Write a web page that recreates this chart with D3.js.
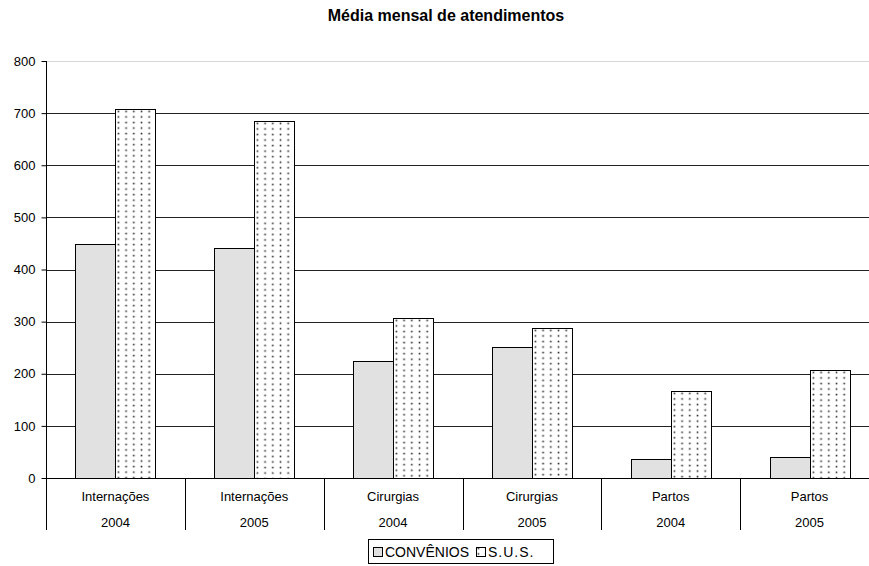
<!DOCTYPE html>
<html>
<head>
<meta charset="utf-8">
<script src="https://cdn.jsdelivr.net/npm/d3@7"></script>
<style>
  html, body { margin: 0; padding: 0; background: #fff; }
  svg { display: block; font-family: "Liberation Sans", Arial, sans-serif; }
</style>
</head>
<body>
<svg id="chart" width="869" height="566"></svg>
<script>
// Monthly average of hospital services, by category and year
const categories = ["Internações", "Internações", "Cirurgias", "Cirurgias", "Partos", "Partos"];
const years = ["2004", "2005", "2004", "2005", "2004", "2005"];
const seriesNames = ["CONVÊNIOS", "S.U.S."];
const convenios = [449, 441, 225, 252, 36, 41];
const sus = [707, 685, 307, 287, 166, 208];
const yTicks = [0, 100, 200, 300, 400, 500, 600, 700, 800];

const rows = categories.map((c, i) => ({
  key: i,
  category: c,
  year: years[i],
  values: [convenios[i], sus[i]]
}));

const svg = d3.select("#chart");
const plotLeft = 46, plotRight = 879, plotTop = 61, plotBottom = 478, axisFoot = 530;
const defs = svg.append("defs");

// Dotted fill, anchored to the left/top edge of the shape that uses it
let patternCount = 0;
function dotPattern(ox, oy) {
  const id = "dots" + (patternCount++);
  const w = 7.7, h = 5.55;
  const p = defs.append("pattern")
    .attr("id", id)
    .attr("patternUnits", "userSpaceOnUse")
    .attr("x", ox).attr("y", oy)
    .attr("width", w).attr("height", h);
  p.append("rect").attr("width", w).attr("height", h).attr("fill", "#fff");
  p.append("rect").attr("x", 2.6).attr("y", 1.6).attr("width", 1.6).attr("height", 1.6).attr("fill", "#2a2a2a");
  return `url(#${id})`;
}

const convFill = "#e1e1e1";

const y = d3.scaleLinear().domain([0, 800]).range([plotBottom, plotTop]);
const x = d3.scaleBand().domain(rows.map(d => d.key)).range([plotLeft, plotRight]).padding(0);
const groupWidth = 80;

// Title
svg.append("text")
  .attr("x", 446).attr("y", 21)
  .attr("text-anchor", "middle")
  .attr("font-weight", "bold")
  .attr("font-size", 16)
  .text("Média mensal de atendimentos");

// Horizontal gridlines
svg.append("g")
  .selectAll("line")
  .data(yTicks.filter(t => t > 0))
  .join("line")
  .attr("x1", plotLeft).attr("x2", plotRight)
  .attr("y1", d => Math.round(y(d)) + 0.5).attr("y2", d => Math.round(y(d)) + 0.5)
  .attr("stroke", d => d === 800 ? "#d8d8d8" : "#222")
  .attr("stroke-width", 1);

// Bars
const groups = svg.append("g")
  .selectAll("g")
  .data(rows)
  .join("g");

groups.each(function(d) {
  const cx = x(d.key) + x.bandwidth() / 2;
  const xs = d3.scaleBand().domain(seriesNames).range([cx - groupWidth / 2, cx + groupWidth / 2]).padding(0);
  d3.select(this).selectAll("rect")
    .data(d.values.map((v, i) => ({ name: seriesNames[i], value: v, i })))
    .join("rect")
    .attr("x", s => Math.round(xs(s.name)) + 0.5)
    .attr("y", s => Math.round(y(s.value)) + 0.5)
    .attr("width", xs.bandwidth())
    .attr("height", s => Math.round(y(0)) - Math.round(y(s.value)))
    .attr("fill", s => s.i === 0 ? convFill : dotPattern(Math.round(xs(s.name)), Math.round(y(s.value))))
    .attr("stroke", "#000")
    .attr("stroke-width", 1);
});

// Y axis
const yAxis = svg.append("g")
  .attr("transform", `translate(${plotLeft + 0.5},0)`)
  .call(d3.axisLeft(y).tickValues(yTicks).tickSize(5).tickSizeOuter(0).tickPadding(6));
yAxis.select(".domain").remove();
yAxis.selectAll("line").attr("stroke", "#000");
yAxis.selectAll("text").attr("font-size", 13).attr("font-family", "Liberation Sans, Arial, sans-serif").attr("fill", "#000");

svg.append("line")
  .attr("x1", plotLeft + 0.5).attr("x2", plotLeft + 0.5)
  .attr("y1", plotTop).attr("y2", axisFoot)
  .attr("stroke", "#000");

// X axis baseline and category separators
svg.append("line")
  .attr("x1", plotLeft).attr("x2", plotRight)
  .attr("y1", plotBottom + 0.5).attr("y2", plotBottom + 0.5)
  .attr("stroke", "#000");

svg.append("g")
  .selectAll("line")
  .data(rows.slice(1))
  .join("line")
  .attr("x1", d => Math.round(x(d.key)) + 0.5).attr("x2", d => Math.round(x(d.key)) + 0.5)
  .attr("y1", plotBottom).attr("y2", axisFoot)
  .attr("stroke", "#000");

// Two-level category labels
const labels = svg.append("g").attr("font-size", 13).attr("text-anchor", "middle");
labels.selectAll("text.cat")
  .data(rows)
  .join("text")
  .attr("class", "cat")
  .attr("x", d => x(d.key) + x.bandwidth() / 2)
  .attr("y", 501)
  .text(d => d.category);
labels.selectAll("text.yr")
  .data(rows)
  .join("text")
  .attr("class", "yr")
  .attr("x", d => x(d.key) + x.bandwidth() / 2)
  .attr("y", 527)
  .text(d => d.year);

// Legend
const legend = svg.append("g");
legend.append("rect")
  .attr("x", 368.5).attr("y", 539.5).attr("width", 185).attr("height", 24)
  .attr("fill", "#fff").attr("stroke", "#000");
const legendItems = [
  { name: seriesNames[0], sx: 373, tx: 385, ls: 0 },
  { name: seriesNames[1], sx: 476, tx: 488, ls: 1 }
];
legendItems.forEach((it, i) => {
  legend.append("rect")
    .attr("x", it.sx + 0.5).attr("y", 547.5).attr("width", 9).attr("height", 9)
    .attr("fill", i === 0 ? convFill : dotPattern(it.sx - 1, 546))
    .attr("stroke", "#000");
  legend.append("text")
    .attr("x", it.tx).attr("y", 557)
    .attr("font-size", 14)
    .attr("letter-spacing", it.ls)
    .text(it.name);
});
</script>
</body>
</html>
